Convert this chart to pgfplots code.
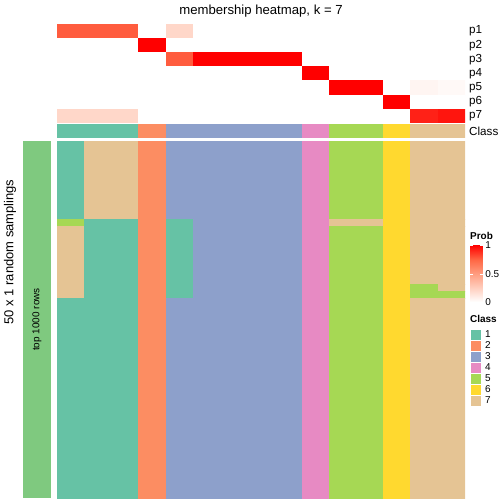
\documentclass[border=0pt]{standalone}
\usepackage{pgfplots}
\pgfplotsset{compat=1.18}
\usepackage{fontspec}
\setmainfont{Liberation Sans}
\definecolor{accgreen}{RGB}{127,201,127}
\pgfplotsset{
  colormap={cls}{rgb255=(255,255,255) rgb255=(102,194,165) rgb255=(252,141,98) rgb255=(141,160,203) rgb255=(231,138,195) rgb255=(166,216,84) rgb255=(255,217,47) rgb255=(229,196,148)},
  colormap={prob}{rgb255=(255,255,255) rgb255=(255,207,191) rgb255=(255,158,129) rgb255=(255,104,70) rgb255=(255,0,0)},
  hm/.style={scale only axis, hide axis, anchor=south west, enlargelimits=false},
}
\begin{document}
\begin{tikzpicture}
\path[use as bounding box] (0,0) rectangle (504bp,504bp);
% probability heatmap
\begin{axis}[hm, at={(57bp,381bp)}, width=408bp, height=99bp,
  xmin=0, xmax=15, ymin=0, ymax=7, y dir=reverse,
  colormap name=prob, point meta min=0, point meta max=1]
\addplot[surf, shader=flat corner, mesh/cols=10, point meta=explicit] table[x=x, y=y, meta=c] {
x y c
0 0 0.78
3 0 0
4 0 0.21
5 0 0
9 0 0
10 0 0
12 0 0
13 0 0
14 0 0
15 0 0
0 1 0
3 1 1
4 1 0
5 1 0
9 1 0
10 1 0
12 1 0
13 1 0
14 1 0
15 1 0
0 2 0
3 2 0
4 2 0.78
5 2 1
9 2 0
10 2 0
12 2 0
13 2 0
14 2 0
15 2 0
0 3 0
3 3 0
4 3 0
5 3 0
9 3 1
10 3 0
12 3 0
13 3 0
14 3 0
15 3 0
0 4 0
3 4 0
4 4 0
5 4 0
9 4 0
10 4 1
12 4 0
13 4 0.05
14 4 0.03
15 4 0
0 5 0
3 5 0
4 5 0
5 5 0
9 5 0
10 5 0
12 5 1
13 5 0
14 5 0
15 5 0
0 6 0.21
3 6 0
4 6 0
5 6 0
9 6 0
10 6 0
12 6 0
13 6 0.92
14 6 0.95
15 6 0
0 7 0
3 7 0
4 7 0
5 7 0
9 7 0
10 7 0
12 7 0
13 7 0
14 7 0
15 7 0
};
\end{axis}
% class annotation row
\begin{axis}[hm, at={(57bp,366bp)}, width=408bp, height=14bp,
  xmin=0, xmax=15, ymin=0, ymax=1, y dir=reverse,
  colormap name=cls, point meta min=0, point meta max=7]
\addplot[surf, shader=flat corner, mesh/cols=8, point meta=explicit] table[x=x, y=y, meta=c] {
x y c
0 0 1
3 0 2
4 0 3
9 0 4
10 0 5
12 0 6
13 0 7
15 0 0
0 1 0
3 1 0
4 1 0
9 1 0
10 1 0
12 1 0
13 1 0
15 1 0
};
\end{axis}
% samplings heatmap (50 rows, boundaries in row units)
\begin{axis}[hm, at={(57bp,6bp)}, width=408bp, height=357bp,
  xmin=0, xmax=15, ymin=0, ymax=50, y dir=reverse,
  colormap name=cls, point meta min=0, point meta max=7]
\addplot[surf, shader=flat corner, mesh/cols=11, point meta=explicit] table[x=x, y=y, meta=c] {
x y c
0 0 1
1 0 7
3 0 2
4 0 3
5 0 3
9 0 4
10 0 5
12 0 6
13 0 7
14 0 7
15 0 0
0 11 5
1 11 1
3 11 2
4 11 1
5 11 3
9 11 4
10 11 7
12 11 6
13 11 7
14 11 7
15 11 0
0 12 7
1 12 1
3 12 2
4 12 1
5 12 3
9 12 4
10 12 5
12 12 6
13 12 7
14 12 7
15 12 0
0 20 7
1 20 1
3 20 2
4 20 1
5 20 3
9 20 4
10 20 5
12 20 6
13 20 5
14 20 7
15 20 0
0 21 7
1 21 1
3 21 2
4 21 1
5 21 3
9 21 4
10 21 5
12 21 6
13 21 5
14 21 5
15 21 0
0 22 1
1 22 1
3 22 2
4 22 3
5 22 3
9 22 4
10 22 5
12 22 6
13 22 7
14 22 7
15 22 0
0 50 0
1 50 0
3 50 0
4 50 0
5 50 0
9 50 0
10 50 0
12 50 0
13 50 0
14 50 0
15 50 0
};
\end{axis}
% left group strip
\begin{axis}[hm, at={(23bp,6bp)}, width=28bp, height=357bp,
  xmin=0, xmax=1, ymin=0, ymax=1]
\addplot[fill=accgreen, draw=none] coordinates {(0,1) (1,1)} \closedcycle;
\node[rotate=90, font=\fontsize{10}{12}\selectfont] at (axis cs:0.5,0.5) {top 1000 rows};
\end{axis}
% colorbar
\begin{axis}[scale only axis, anchor=south west, at={(470bp,201.5bp)}, width=12.7bp, height=57bp,
  enlargelimits=false, xmin=0, xmax=1, ymin=0, ymax=1,
  colormap name=prob, point meta min=0, point meta max=1,
  axis line style={draw=none}, xtick=\empty, ytick={0,0.5,1}, yticklabels={0,0.5,1},
  ytick pos=both, yticklabel pos=right, tick align=inside,
  major tick length=2.5bp, tick style={white, line width=0.6pt},
  yticklabel style={font=\fontsize{10}{12}\selectfont, inner sep=0pt, xshift=2.5bp},
  /pgf/number format/assume math mode=true, axis on top]
\addplot[surf, shader=interp, mesh/cols=2, point meta=explicit] table[x=x, y=y, meta=c] {
x y c
0 0 0
1 0 0
0 0.25 0.25
1 0.25 0.25
0 0.5 0.5
1 0.5 0.5
0 0.75 0.75
1 0.75 0.75
0 1 1
1 1 1
};
\end{axis}
% class legend
\begin{axis}[scale only axis, anchor=south west, at={(470bp,98bp)}, width=11.3bp, height=77bp,
  enlargelimits=false, xmin=0, xmax=1, ymin=0, ymax=7, y dir=reverse,
  colormap name=cls, point meta min=0, point meta max=7,
  axis line style={draw=none}, xtick=\empty, ytick={0.5,1.5,2.5,3.5,4.5,5.5,6.5},
  yticklabels={1,2,3,4,5,6,7}, yticklabel pos=right, major tick length=0pt,
  yticklabel style={font=\fontsize{10}{12}\selectfont, inner sep=0pt, xshift=3.7bp},
  clip=false]
\addplot[scatter, only marks, mark=square*, mark size=5.6bp, point meta=explicit,
  scatter/use mapped color={draw=white, fill=mapped color}, line width=0.5pt] table[x=x, y=y, meta=c] {
x y c
0.5 0.5 1
0.5 1.5 2
0.5 2.5 3
0.5 3.5 4
0.5 4.5 5
0.5 5.5 6
0.5 6.5 7
};
\end{axis}
% texts
\node[font=\fontsize{13.2}{15}\selectfont] at (261bp,492.5bp) {membership heatmap, k = 7};
\node[rotate=90, font=\fontsize{13}{15}\selectfont] at (10bp,252bp) {50 x 1 random samplings};
\foreach \lab [count=\i] in {p1,p2,p3,p4,p5,p6,p7} {
  \node[anchor=west, inner sep=0pt, font=\fontsize{11.7}{13}\selectfont] at (469bp,{(504-24-14.14*(\i-0.5))*1bp}) {\lab};
}
\node[anchor=west, inner sep=0pt, font=\fontsize{11.7}{13}\selectfont] at (469bp,373bp) {Class};
\node[anchor=west, inner sep=0pt, font=\bfseries\fontsize{10}{12}\selectfont] at (470bp,267.7bp) {Prob};
\node[anchor=west, inner sep=0pt, font=\bfseries\fontsize{10}{12}\selectfont] at (470bp,185bp) {Class};
\end{tikzpicture}
\end{document}
